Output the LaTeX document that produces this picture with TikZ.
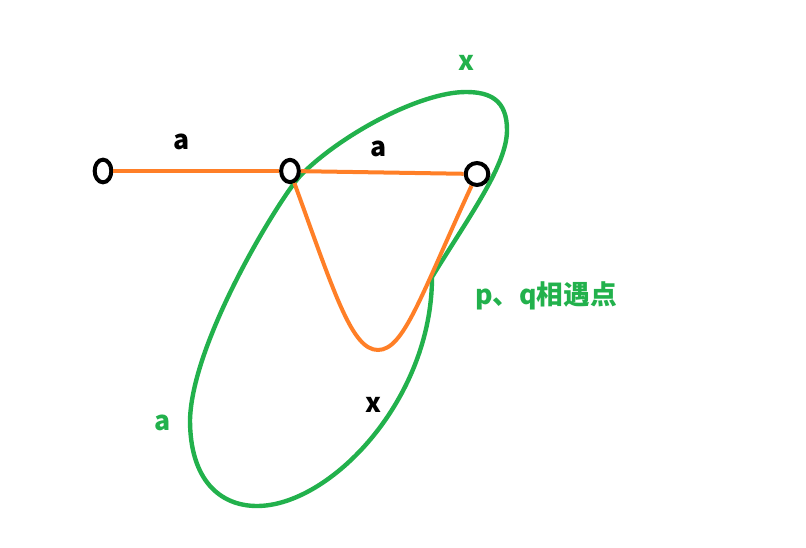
\documentclass[tikz,border=0pt]{standalone}
\usepackage{fontspec}
\setmainfont{Noto Sans CJK SC}
\usetikzlibrary{shapes.geometric}
\definecolor{pgreen}{RGB}{34,177,76}
\definecolor{porange}{RGB}{255,127,39}
\tikzset{
  ring/.style={draw=black, line width=3pt, ellipse, inner sep=0pt},
  oline/.style={draw=porange, line width=3pt},
  gline/.style={draw=pgreen, line width=3.3pt},
  lbl/.style={font=\fontsize{20}{24}\selectfont\bfseries, inner sep=0pt},
}
\begin{document}
\begin{tikzpicture}[x=0.75pt, y=-0.75pt]
\useasboundingbox (0,0) rectangle (806,548);
% green loop
\coordinate (pq) at (432,277);
\draw[gline, line join=miter] (pq)
  .. controls (470,215) and (507,165) .. (507,130)
  .. controls (507,100) and (490,92) .. (466,92)
  .. controls (420,92) and (340,135) .. (300,176)
  .. controls (280,198) and (192,340) .. (190,420)
  .. controls (190,480) and (220,506) .. (257,506)
  .. controls (330,506) and (432,400) .. (pq);
% nodes
\node[ring, minimum width=12.5pt, minimum height=17pt] (n1) at (103,171) {};
\node[ring, minimum width=13.3pt, minimum height=16.7pt] (n2) at (290,171) {};
\node[ring, minimum width=17pt, minimum height=16.5pt] (n3) at (477,174) {};
\coordinate (b) at (378,350);
% orange edges
\draw[oline] (n1) -- (n2);
\draw[oline] (n2) -- (n3);
\draw[oline] (n2) .. controls (335,295) and (352,350) .. (b)
              .. controls (404,350) and (421,295) .. (n3);
% labels
\node[lbl] (la1) at (182,142) {a};
\node[lbl] (la2) at (379,149) {a};
\node[lbl, text=pgreen] (lx1) at (466,63) {x};
\node[lbl, text=pgreen] (lpq) at (546,296) {p、q相遇点};
\node[lbl, text=pgreen] (la3) at (163,423) {a};
\node[lbl] (lx2) at (373,405) {x};
\end{tikzpicture}
\end{document}
